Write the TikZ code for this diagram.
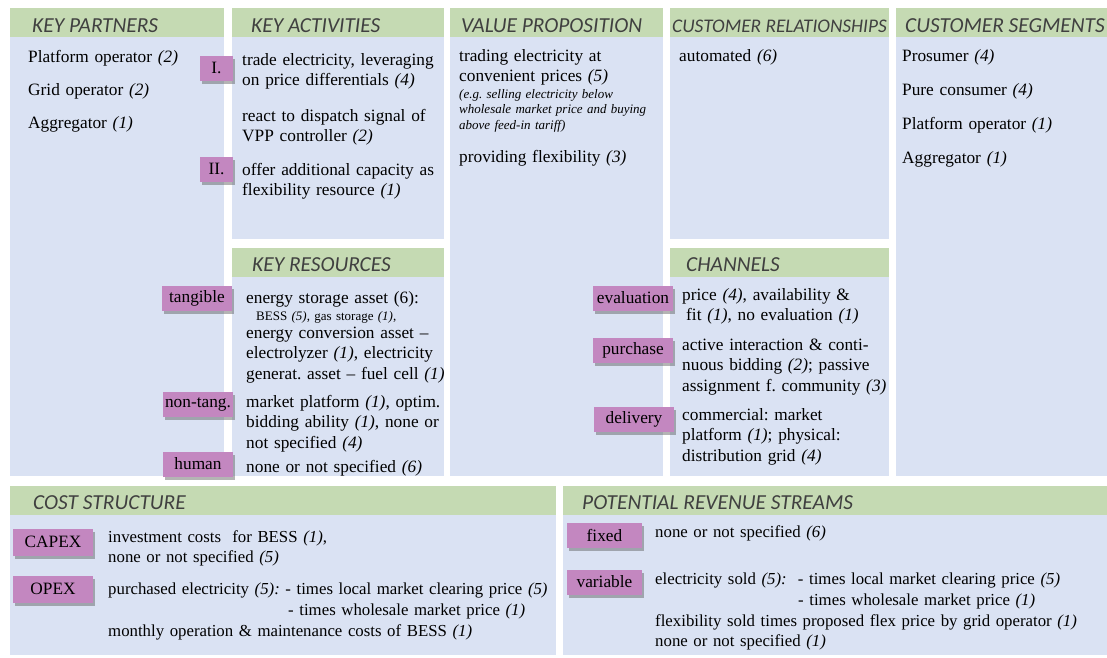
\documentclass[tikz,border=0pt]{standalone}
\usepackage{fontspec}
\setmainfont{Liberation Serif}
\newfontfamily\hdrfont{Carlito}
\usetikzlibrary{shadows}
\definecolor{hdrgreen}{HTML}{C5DAB3}
\definecolor{bodyblue}{HTML}{DAE2F3}
\definecolor{tagpurple}{HTML}{C387C0}
\definecolor{hdrgray}{HTML}{404040}
\newcommand{\cnt}[1]{\textit{(#1)}}
\frenchspacing

\begin{document}
\begin{tikzpicture}[x=1pt, y=-1pt,
    hdr/.style={anchor=base west, inner sep=0pt, text=hdrgray,
        font=\hdrfont\itshape\fontsize{21.4}{24}\selectfont},
    txt/.style={anchor=base west, inner sep=0pt, text width=520pt, align=left,
        font=\fontsize{17.3}{20.7}\selectfont},
    txtlow/.style={txt, font=\fontsize{16.8}{20.7}\selectfont},
    small/.style={txt, font=\fontsize{13}{15.7}\selectfont},
    tag/.style={fill=tagpurple, inner sep=0pt, minimum height=25pt,
        font=\fontsize{17.3}{20}\selectfont,
        drop shadow={shadow xshift=1.5pt, shadow yshift=-3.5pt, opacity=0.45, fill=black!65}}]
\useasboundingbox (0,0) rectangle (1107,657);
% background panels
\fill[bodyblue] (10,37) rectangle (224,476);
\fill[hdrgreen] (10,8) rectangle (224,37);
\fill[bodyblue] (232,37) rectangle (444,239);
\fill[hdrgreen] (232,8) rectangle (444,37);
\fill[bodyblue] (232,277) rectangle (444,476);
\fill[hdrgreen] (232,248) rectangle (444,277);
\fill[bodyblue] (450,37) rectangle (663,476);
\fill[hdrgreen] (450,8) rectangle (663,37);
\fill[bodyblue] (670,37) rectangle (889,239);
\fill[hdrgreen] (670,8) rectangle (889,37);
\fill[bodyblue] (670,277) rectangle (889,476);
\fill[hdrgreen] (670,248) rectangle (889,277);
\fill[bodyblue] (896,37) rectangle (1107,476);
\fill[hdrgreen] (896,8) rectangle (1107,37);
\fill[bodyblue] (10,515) rectangle (556,655);
\fill[hdrgreen] (10,486) rectangle (556,515);
\fill[bodyblue] (563,515) rectangle (1107,655);
\fill[hdrgreen] (563,486) rectangle (1107,515);

% headers
\node[hdr] (kpH) at (32,32.5) {KEY PARTNERS};
\node[hdr] (kaH) at (251,32.5) {KEY ACTIVITIES};
\node[hdr] (vpH) at (461,32.5) {VALUE PROPOSITION};
\node[hdr, font=\hdrfont\itshape\fontsize{19.3}{22}\selectfont] (crH) at (672,32.5) {CUSTOMER RELATIONSHIPS};
\node[hdr] (csH) at (905,32.5) {CUSTOMER SEGMENTS};
\node[hdr] (krH) at (252,271.5) {KEY RESOURCES};
\node[hdr] (chH) at (686,271.5) {CHANNELS};
\node[hdr] (coH) at (33,509.5) {COST STRUCTURE};
\node[hdr] (reH) at (582,509.5) {POTENTIAL REVENUE STREAMS};

% key partners
\node[txt] (kp1) at (28,62) {Platform operator \cnt{2}};
\node[txt] (kp2) at (28,95) {Grid operator \cnt{2}};
\node[txt] (kp3) at (28,128) {Aggregator \cnt{1}};

% key activities
\node[txt] (ka1) at (242,65) {trade electricity, leveraging\\on price differentials \cnt{4}};
\node[txt] (ka2) at (242,121) {react to dispatch signal of\\VPP controller \cnt{2}};
\node[txt] (ka3) at (242,175) {offer additional capacity as\\flexibility resource \cnt{1}};

% value proposition
\node[txt] (vp1) at (459,61) {trading electricity at\\convenient prices \cnt{5}};
\node[small] (vp2) at (459,98) {\itshape (e.g. selling electricity below\\wholesale market price and buying\\above feed-in tariff)};
\node[txt] (vp3) at (459,162) {providing flexibility \cnt{3}};

% customer relationships
\node[txt] (cr1) at (679,61) {automated \cnt{6}};

% customer segments
\node[txt] (cs1) at (902,61) {Prosumer \cnt{4}};
\node[txt] (cs2) at (902,95) {Pure consumer \cnt{4}};
\node[txt] (cs3) at (902,129) {Platform operator \cnt{1}};
\node[txt] (cs4) at (902,163) {Aggregator \cnt{1}};

% key resources
\node[txt] (kr1) at (246,303) {energy storage asset (6):};
\node[small] (kr2) at (256,320) {BESS \cnt{5}, gas storage \cnt{1},};
\node[txt] (kr3) at (246,338) {energy conversion asset --\\electrolyzer \cnt{1}, electricity\\generat. asset -- fuel cell \cnt{1}};
\node[txt] (kr4) at (246,407) {market platform \cnt{1}, optim.\\bidding ability \cnt{1}, none or\\not specified \cnt{4}};
\node[txt] (kr5) at (246,472) {none or not specified \cnt{6}};

% channels
\node[txt] (ch1) at (682,300) {price \cnt{4}, availability \&\\\hspace*{4pt}fit \cnt{1}, no evaluation \cnt{1}};
\node[txt] (ch2) at (682,350) {active interaction \& conti-\\nuous bidding \cnt{2}; passive\\assignment f. community \cnt{3}};
\node[txt] (ch3) at (682,420) {commercial: market\\platform \cnt{1}; physical:\\distribution grid \cnt{4}};

% cost structure
\node[txtlow] (co1) at (108,542) {investment costs\ \ for BESS \cnt{1},\\none or not specified \cnt{5}};
\node[txtlow] (co2) at (108,594) {purchased electricity \textit{(5):} - times local market clearing price \cnt{5}};
\node[txtlow] (co3) at (288,615) {- times wholesale market price \cnt{1}};
\node[txtlow] (co4) at (108,636) {monthly operation \& maintenance costs of BESS \cnt{1}};

% revenue streams
\node[txtlow] (re1) at (655,537) {none or not specified \cnt{6}};
\node[txtlow] (re2) at (655,584) {electricity sold \textit{(5):}\ \ - times local market clearing price \cnt{5}};
\node[txtlow] (re3) at (798,605) {- times wholesale market price \cnt{1}};
\node[txtlow] (re4) at (655,626) {flexibility sold times proposed flex price by grid operator \cnt{1}\\none or not specified \cnt{1}};

% purple tags
\node[tag, minimum width=33pt] (tagI) at (216.5,68) {I.};
\node[tag, minimum width=33pt] (tagII) at (216.5,169) {II.};
\node[tag, minimum width=70pt] (tangible) at (197,298) {tangible};
\node[tag, minimum width=70pt] (nontang) at (198,404) {non-tang.};
\node[tag, minimum width=70pt] (human) at (198,464) {human};
\node[tag, minimum width=80pt] (evaluation) at (633,298) {evaluation};
\node[tag, minimum width=80pt] (purchase) at (633,350) {purchase};
\node[tag, minimum width=80pt] (delivery) at (634,419) {delivery};
\node[tag, minimum width=80pt, minimum height=27pt] (capex) at (53,542) {CAPEX};
\node[tag, minimum width=80pt, minimum height=27pt] (opex) at (53,589) {OPEX};
\node[tag, minimum width=75pt] (fixed) at (604.5,535) {fixed};
\node[tag, minimum width=75pt] (variable) at (604.5,582) {variable};
\end{tikzpicture}
\end{document}
